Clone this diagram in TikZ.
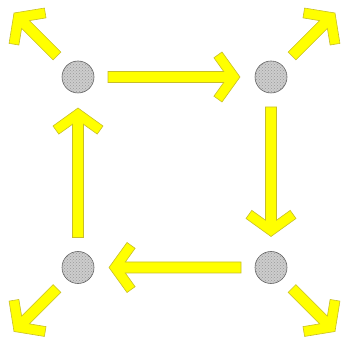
\documentclass[tikz,border=0pt]{standalone}
\usepackage{xcolor}
\usetikzlibrary{calc, patterns}
\definecolor{arrowfill}{RGB}{255,255,0}
\definecolor{arrowline}{RGB}{200,190,40}
\definecolor{dotfill}{RGB}{205,205,205}

% fat yellow arrow from #1 (tail) to #2 (tip)
\newcommand\yarrow[2]{%
  \draw[fatarrow] let \p1=(#1), \p2=(#2),
    \n1={atan2(\y2-\y1,\x2-\x1)}, \n2={veclen(\x2-\x1,\y2-\y1)} in
    [shift={(\p1)}, rotate=\n1]
    (0,5.5) -- ({\n2-16.3pt},5.5) -- ({\n2-26.1pt},19.2) -- ({\n2-18pt},25)
    -- (\n2,0) -- ({\n2-18pt},-25) -- ({\n2-26.1pt},-19.2)
    -- ({\n2-16.3pt},-5.5) -- (0,-5.5) -- cycle;}

\begin{document}
\begin{tikzpicture}[
  x=1pt, y=1pt,
  dot/.style={circle, draw=gray!75!black, line width=0.6pt, fill=dotfill, minimum size=32pt, inner sep=0pt,
    postaction={pattern=crosshatch dots, pattern color=gray!80}},
  fatarrow/.style={draw=arrowline, fill=arrowfill, line width=0.6pt, line join=miter},
]
\useasboundingbox (0,0) rectangle (344,339);
\node[dot] (tl) at (78,262) {};
\node[dot] (tr) at (271,262) {};
\node[dot] (bl) at (78,71.5) {};
\node[dot] (br) at (271,71.5) {};
% the square
\yarrow{$(tl)+(30,0)$}{$(tr)+(-31,0)$}
\yarrow{$(tr)+(0,-30)$}{$(br)+(0,31)$}
\yarrow{$(br)+(-30,0)$}{$(bl)+(31,0)$}
\yarrow{$(bl)+(0,30)$}{$(tl)+(0,-31)$}
% corners
\yarrow{$(tl)+(-21,21)$}{$(tl)+(-64,64)$}
\yarrow{$(tr)+(21,21)$}{$(tr)+(64,64)$}
\yarrow{$(bl)+(-21,-21)$}{$(bl)+(-64,-64)$}
\yarrow{$(br)+(21,-21)$}{$(br)+(64,-64)$}
\end{tikzpicture}
\end{document}
